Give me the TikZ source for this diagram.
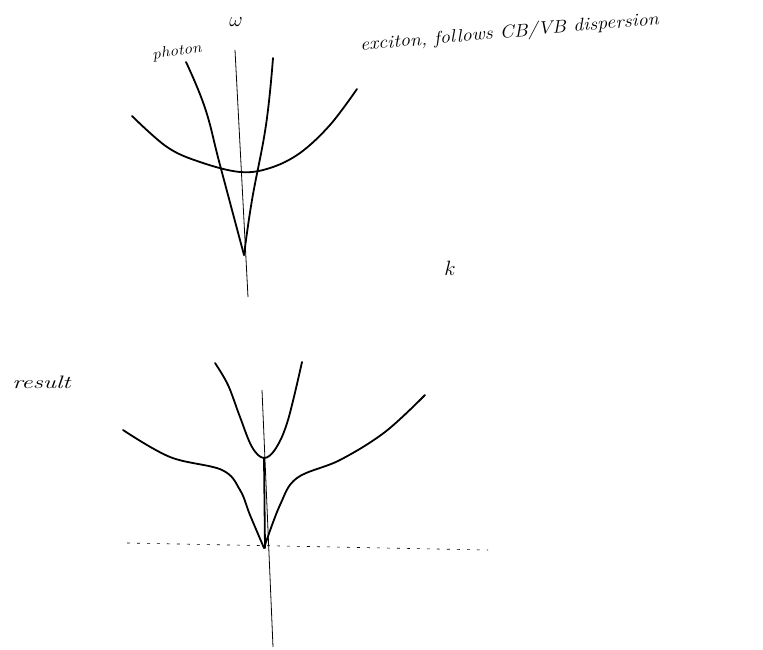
\documentclass[tikz,border=0pt]{standalone}
\begin{document}
\begin{tikzpicture}[x=1pt,y=-1pt,
  curve/.style={line width=1.8pt,line cap=round,line join=round},
  axis/.style={line width=0.8pt},
  hand/.style={font=\itshape\fontsize{16}{18}\selectfont,inner sep=0pt}]
\useasboundingbox (0,0) rectangle (763,650);
% ---------- top sketch ----------
\coordinate (ta1) at (235,50);
\coordinate (ta2) at (248,297);
\draw[axis] (ta1) -- (ta2);
\node[hand,font=\itshape\fontsize{20}{22}\selectfont] (omega) at (236,22) {$\omega$};
\node[hand,rotate=8,xscale=1.15,font=\itshape\fontsize{15}{17}\selectfont] (photon) at (177,52) {photon};
% photon cone
\draw[curve] plot[smooth,tension=0.7] coordinates {(186,62) (205,108) (220,165) (244,255)};
\draw[curve] plot[smooth,tension=0.7] coordinates {(273,58) (266,125) (252,200) (244,255)};
% exciton parabola
\draw[curve] plot[smooth,tension=0.6] coordinates {(132,116) (167,147) (200,162) (240,172) (270,168) (300,153) (330,125) (357,89)};
\node[hand,rotate=5,anchor=west,xscale=1.12,font=\itshape\fontsize{18}{20}\selectfont] (exciton) at (360,46) {exciton, follows CB/VB dispersion};
\node[hand,font=\itshape\fontsize{20}{22}\selectfont] (k) at (450,268) {$k$};
% ---------- bottom sketch ----------
\node[hand,anchor=west,xscale=1.4,font=\itshape\fontsize{18}{20}\selectfont] (result) at (12,382) {result};
\coordinate (ba1) at (262,390);
\coordinate (ba2) at (273,647);
\draw[axis] (ba1) -- (ba2);
\draw[line width=0.6pt,dash pattern=on 3pt off 7pt] (127,543) -- (488,550);
% upper branch
\draw[curve] plot[smooth,tension=0.6] coordinates {(215,363) (228,385) (240,417) (252,447) (264,458) (276,448) (288,420) (302,362)};
\draw[curve] (264,458) -- (265,548);
% lower branch
\draw[curve] plot[smooth,tension=0.6] coordinates {(123,430) (170,457) (222,470) (240,490) (250,515) (264,548)};
\draw[curve] plot[smooth,tension=0.6] coordinates {(264,548) (280,505) (297,478) (340,460) (385,432) (425,395)};
\end{tikzpicture}
\end{document}
